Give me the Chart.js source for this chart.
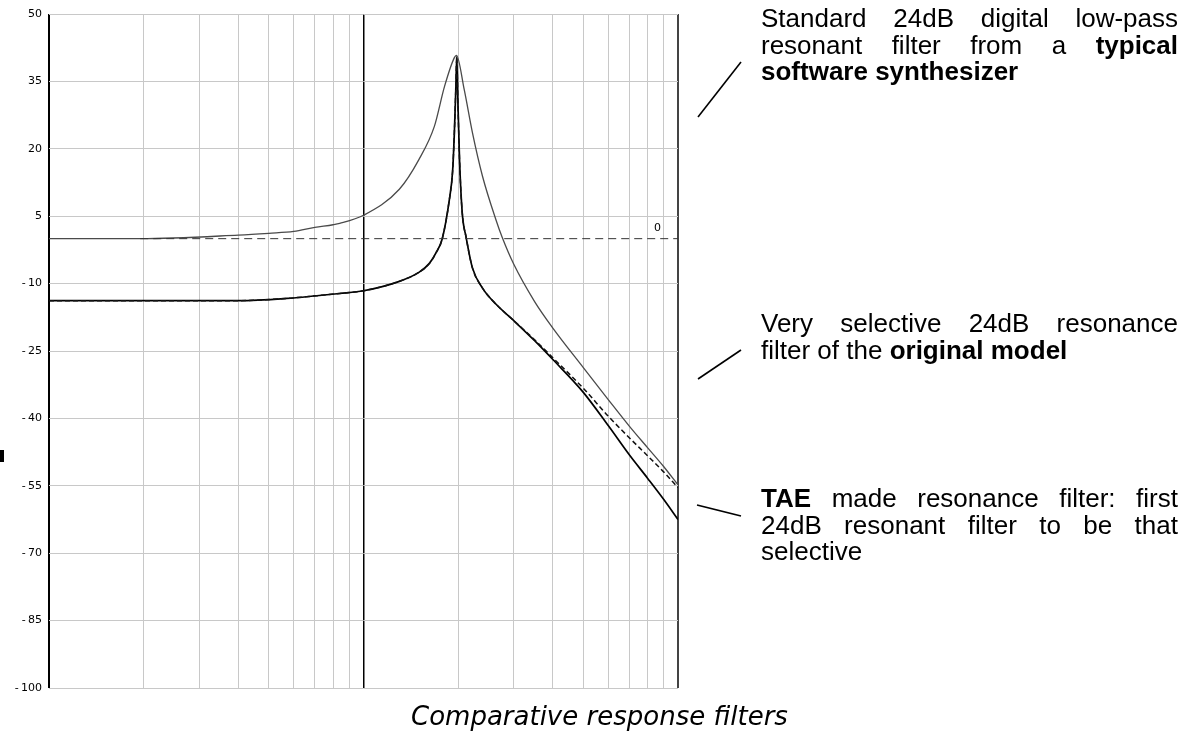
<!DOCTYPE html>
<html>
<head>
<meta charset="utf-8">
<script src="https://cdn.jsdelivr.net/npm/chart.js@4.4.1/dist/chart.umd.min.js"></script>
<style>
  body { margin: 0; background: #fff; width: 1189px; height: 732px; position: relative; overflow: hidden; }
  #wrap { position: absolute; left: 0; top: 0; width: 700px; height: 732px; }
  .note { position: absolute; left: 761px; width: 417px; font-family: "Liberation Sans", Arial, sans-serif; font-size: 26px; line-height: 26.7px; color: #000; }
  .note div { white-space: nowrap; }
  .note .j { text-align: justify; text-align-last: justify; white-space: normal; }
  .caption { position: absolute; left: 411px; top: 701px; font-family: "DejaVu Sans", sans-serif; font-style: italic; font-size: 26px; line-height: 30px; color: #000; white-space: nowrap; }
  #pointers { position: absolute; left: 0; top: 0; }
  .blot { position: absolute; left: 0; top: 450px; width: 4px; height: 12px; background: #000; }
</style>
</head>
<body>
<div id="wrap"><canvas id="myChart" width="700" height="732"></canvas></div>

<svg id="pointers" width="1189" height="732">
  <line x1="698" y1="117" x2="741" y2="62" stroke="#000" stroke-width="1.6"/>
  <line x1="698" y1="379" x2="741" y2="350" stroke="#000" stroke-width="1.6"/>
  <line x1="697" y1="505" x2="741" y2="516" stroke="#000" stroke-width="1.6"/>
</svg>

<div class="note" style="top:5px">
  <div class="j">Standard 24dB digital low-pass</div>
  <div class="j">resonant filter from a <b>typical</b></div>
  <div><b>software synthesizer</b></div>
</div>
<div class="note" style="top:310px">
  <div class="j">Very selective 24dB resonance</div>
  <div>filter of the <b>original model</b></div>
</div>
<div class="note" style="top:485px">
  <div class="j"><b>TAE</b> made resonance filter: first</div>
  <div class="j">24dB resonant filter to be that</div>
  <div>selective</div>
</div>
<div class="caption">Comparative response filters</div>
<div class="blot"></div>

<script>
// x axis: relative frequency on a log scale (1 .. 100), y axis: gain in dB
var xTicks = [1, 2, 3, 4, 5, 6, 7, 8, 9, 10, 20, 30, 40, 50, 60, 70, 80, 90, 100];
var yTicks = [50, 35, 20, 5, -10, -25, -40, -55, -70, -85, -100];

// standard 24dB low-pass of a typical software synth
var stdFreq = [1, 1.95, 4, 5, 6, 7, 8, 8.4, 10, 13, 15, 16.8, 18.1, 19.45, 19.75, 20.9, 22.2, 23.9, 26.4, 27.6, 30, 35, 40, 50, 60, 70, 80, 90, 100];
var stdGain = [0, 0, 0.8, 1.2, 1.6, 2.5, 3.1, 3.4, 5.2, 11, 17.6, 25, 33.9, 40.3, 40.8, 33.2, 23.6, 13.9, 4.1, 0.3, -5.6, -14.0, -19.9, -28.7, -35.8, -41.7, -46.5, -50.7, -54.8];

// original model and TAE filter share the same frequency points
var lowFreq = [1, 4, 5.7, 7.1, 8.4, 10, 13, 15, 16.2, 17.05, 17.8, 18.75, 19.2, 19.45, 19.65, 19.8, 19.95, 20.2, 20.6, 21.2, 22.2, 23.9, 26.4, 30, 35, 40, 50, 60, 70, 80, 90, 100];
var origGain = [-13.8, -13.8, -13.3, -12.7, -12.2, -11.6, -9.5, -7.5, -5.5, -3, 0, 8.7, 15, 23.6, 33, 40.5, 31, 17.6, 5.8, 0.3, -6.5, -11.0, -14.6, -18.2, -22.5, -26.5, -33.3, -39.5, -44.3, -48.3, -51.9, -55.4];
var taeGain = [-13.8, -13.8, -13.3, -12.7, -12.2, -11.6, -9.5, -7.5, -5.5, -3, 0, 8.7, 15, 23.6, 33, 40.5, 31, 17.6, 5.8, 0.3, -6.5, -11.0, -14.6, -18.2, -22.7, -26.9, -34.2, -41.6, -48.1, -53.3, -58.0, -62.5];

// 0 dB reference line
var refFreq = [1.95, 100];
var refGain = [0, 0];
var refLabel = '0';
var refLabelFreq = 86;

function toPoints(xs, ys) {
    return xs.map(function (x, i) { return { x: x, y: ys[i] }; });
}

// draws the little "0" next to the reference line
var refLabelPlugin = {
    id: 'refLabel',
    afterDatasetsDraw: function (chart) {
        var ctx = chart.ctx;
        var px = chart.scales.x.getPixelForValue(refLabelFreq);
        var py = chart.scales.y.getPixelForValue(refGain[0]);
        ctx.save();
        ctx.font = '11px "DejaVu Sans", sans-serif';
        ctx.fillStyle = '#000';
        ctx.textAlign = 'center';
        ctx.textBaseline = 'bottom';
        ctx.fillText(refLabel, px, py - 5);
        ctx.restore();
    }
};

var ctx = document.getElementById('myChart').getContext('2d');
var myChart = new Chart(ctx, {
    type: 'line',
    data: {
        datasets: [
            {
                label: 'Reference 0 dB',
                data: toPoints(refFreq, refGain),
                borderColor: '#333',
                borderWidth: 1,
                borderDash: [8, 5],
                pointRadius: 0
            },
            {
                label: 'Standard 24dB (software synth)',
                data: toPoints(stdFreq, stdGain),
                borderColor: '#4a4a4a',
                borderWidth: 1.3,
                cubicInterpolationMode: 'monotone',
                pointRadius: 0
            },
            {
                label: 'Original model',
                data: toPoints(lowFreq, origGain),
                borderColor: '#111',
                borderWidth: 1.5,
                borderDash: [5, 3],
                cubicInterpolationMode: 'monotone',
                pointRadius: 0
            },
            {
                label: 'TAE',
                data: toPoints(lowFreq, taeGain),
                borderColor: '#000',
                borderWidth: 1.7,
                cubicInterpolationMode: 'monotone',
                pointRadius: 0
            }
        ]
    },
    options: {
        responsive: false,
        animation: false,
        devicePixelRatio: 1,
        layout: { padding: { top: 14, right: 22, bottom: 44, left: 0 } },
        plugins: {
            legend: { display: false },
            tooltip: { enabled: false }
        },
        scales: {
            x: {
                type: 'logarithmic',
                min: 1,
                max: 100,
                afterBuildTicks: function (scale) {
                    scale.ticks = xTicks.map(function (v) { return { value: v }; });
                },
                afterFit: function (scale) { scale.height = 0; },
                ticks: { display: false },
                border: { display: false },
                grid: {
                    drawTicks: false,
                    color: function (c) {
                        var v = c.tick ? c.tick.value : 0;
                        if (v === 1 || v === 10) return '#000';
                        if (v === 100) return '#444';
                        return '#c8c8c8';
                    },
                    lineWidth: function (c) {
                        var v = c.tick ? c.tick.value : 0;
                        if (v === 1 || v === 100) return 2;
                        if (v === 10) return 1.5;
                        return 1;
                    }
                }
            },
            y: {
                min: -100,
                max: 50,
                afterBuildTicks: function (scale) {
                    scale.ticks = yTicks.map(function (v) { return { value: v }; });
                },
                afterFit: function (scale) { scale.width = 49; },
                border: { display: false },
                grid: { drawTicks: false, color: '#c8c8c8', lineWidth: 1 },
                ticks: {
                    padding: 7,
                    color: '#000',
                    font: { family: '"DejaVu Sans", sans-serif', size: 11 },
                    callback: function (v) { return v < 0 ? '-\u2009' + Math.abs(v) : String(v); }
                }
            }
        }
    },
    plugins: [refLabelPlugin]
});
</script>
</body>
</html>
